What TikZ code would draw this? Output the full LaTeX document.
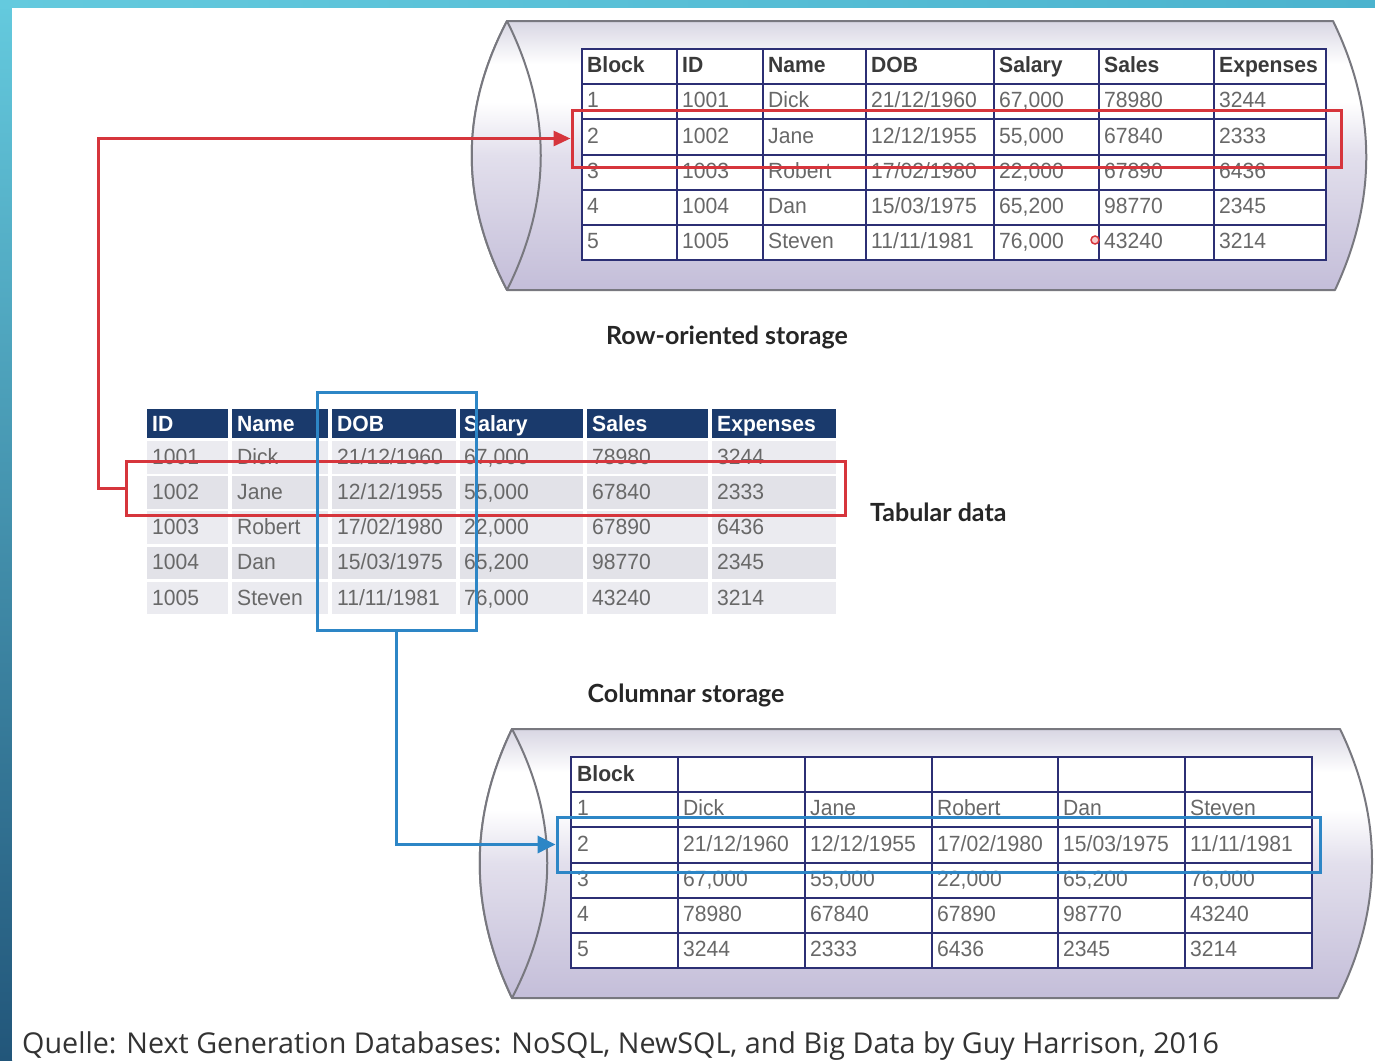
\documentclass[tikz,border=0pt]{standalone}
\usepackage{fontspec}
\setmainfont{Liberation Sans}
\newfontfamily\cellfont[FakeStretch=0.96]{Liberation Sans}
\newfontfamily\capfont{Lato}
\newfontfamily\sourcefont{Open Sans}
\usetikzlibrary{arrows.meta}

\definecolor{stripA}{HTML}{64CADE}
\definecolor{stripB}{HTML}{4AA9C6}
\definecolor{stripC}{HTML}{22567A}
\definecolor{stripR}{HTML}{4BB3CE}
\definecolor{gridnavy}{HTML}{2C2F74}
\definecolor{headnavy}{HTML}{1A3A6C}
\definecolor{selred}{HTML}{D6353C}
\definecolor{selblue}{HTML}{2D86C6}
\definecolor{celltext}{HTML}{686868}
\definecolor{headtext}{HTML}{3A3A3A}
\definecolor{bandlight}{HTML}{EBEBF0}
\definecolor{banddark}{HTML}{E2E2E8}
\definecolor{cyledge}{HTML}{78787F}
\definecolor{cyltop}{HTML}{D8D6E3}
\definecolor{cyllow}{HTML}{E2DFEC}
\definecolor{cylbot}{HTML}{C4BED9}

% drum body: greyish rim on top, bright band, lavender towards the bottom
\pgfdeclareverticalshading{cylshade}{100bp}{color(0bp)=(cylbot); color(25bp)=(cylbot); color(50bp)=(cyllow); color(60bp)=(white); color(67bp)=(white); color(75bp)=(cyltop); color(100bp)=(cyltop)}

\newcommand\hd[1]{\textcolor{headtext}{\bfseries #1}}

% one line of the row-oriented block table
\newcommand\toprow[9]{%
  \node[tcell] (top#1a) at (587,#2) {#3};
  \node[tcell] (top#1b) at (682,#2) {#4};
  \node[tcell] (top#1c) at (768,#2) {#5};
  \node[tcell] (top#1d) at (871,#2) {#6};
  \node[tcell] (top#1e) at (999,#2) {#7};
  \node[tcell] (top#1f) at (1104,#2) {#8};
  \node[tcell] (top#1g) at (1219,#2) {#9};
}
% one line of the tabular data
\newcommand\tabrow[8]{%
  \node[tcell,#8] (tab#1a) at (152,#2) {#3};
  \node[tcell,#8] (tab#1b) at (237,#2) {#4};
  \node[tcell,#8] (tab#1c) at (337,#2) {#5};
  \node[tcell,#8] (tab#1d) at (464,#2) {#6};
  \node[tcell,#8] (tab#1e) at (592,#2) {#7};
}
% one line of the columnar block table
\newcommand\colrow[8]{%
  \node[tcell] (col#1a) at (577,#2) {#3};
  \node[tcell] (col#1b) at (683,#2) {#4};
  \node[tcell] (col#1c) at (810,#2) {#5};
  \node[tcell] (col#1d) at (937,#2) {#6};
  \node[tcell] (col#1e) at (1063,#2) {#7};
  \node[tcell] (col#1f) at (1190,#2) {#8};
}

\begin{document}
\begin{tikzpicture}[x=1pt,y=-1pt,
  tcell/.style={anchor=west, inner sep=0pt, text=celltext,
    font=\cellfont\fontsize{22}{26}\selectfont, text height=16pt, text depth=0pt},
  drum/.style={shade, shading=cylshade, draw=cyledge, line width=2pt, line join=round},
  gridline/.style={draw=gridnavy, line width=2pt},
  selbox/.style={draw, line width=3pt, inner sep=0pt, fill=none},
  redlink/.style={draw=selred, line width=3pt, -{Triangle[length=17pt,width=15pt]}},
  bluelink/.style={draw=selblue, line width=3.5pt, -{Triangle[length=18pt,width=17pt]}},
  caplabel/.style={font=\capfont\bfseries\fontsize{25}{30}\selectfont, text=black!85, inner sep=0pt}]
\useasboundingbox (0,0) rectangle (1375,1060);

% slide frame
\shade[top color=stripA, middle color=stripB, bottom color=stripC] (0,0) rectangle (12,1060);
\shade[left color=stripA, right color=stripR] (0,0) rectangle (1375,8);
\fill[white] (12,8) rectangle (1375,1060);

% ---------- row-oriented drum ----------
\path[drum] (507,21) -- (1333,21) .. controls (1377,111) and (1377,200) .. (1335,290)
  -- (507,290) .. controls (460,200) and (460,111) .. (507,21) -- cycle;
\path[drum] (507,21) .. controls (460,111) and (460,200) .. (507,290)
  .. controls (552,200) and (552,111) .. (507,21) -- cycle;

\node[draw=gridnavy, line width=2.5pt, fill=white, inner sep=0pt,
  minimum width=744pt, minimum height=211pt] (toptable) at (954,154.5) {};
\foreach \x in {677,763,866,994,1099,1214} \draw[gridline] (\x,49) -- (\x,260);
\foreach \y in {84,119,155,190,225} \draw[gridline] (582,\y) -- (1326,\y);

\toprow{h}{64}{\hd{Block}}{\hd{ID}}{\hd{Name}}{\hd{DOB}}{\hd{Salary}}{\hd{Sales}}{\hd{Expenses}}
\toprow{1}{99}{1}{1001}{Dick}{21/12/1960}{67,000}{78980}{3244}
\toprow{2}{135}{2}{1002}{Jane}{12/12/1955}{55,000}{67840}{2333}
\toprow{3}{170}{3}{1003}{Robert}{17/02/1980}{22,000}{67890}{6436}
\toprow{4}{205}{4}{1004}{Dan}{15/03/1975}{65,200}{98770}{2345}
\toprow{5}{240}{5}{1005}{Steven}{11/11/1981}{76,000}{43240}{3214}

\node[circle, draw=selred, fill=selred!25, line width=1.5pt, minimum size=8pt, inner sep=0pt] (pointer) at (1095,240) {};

\node[caplabel] (rowlabel) at (727,337) {Row-oriented storage};

% ---------- tabular data ----------
\foreach \xa/\xb in {147/228, 232/328, 332/456, 460/583, 587/708, 712/836} {
  \fill[headnavy] (\xa,409) rectangle (\xb,438);
  \foreach \k in {0,2,4} \fill[bandlight] (\xa,441+35.2*\k) rectangle (\xb,473.5+35.2*\k);
  \foreach \k in {1,3} \fill[banddark] (\xa,441+35.2*\k) rectangle (\xb,473.5+35.2*\k);
}
\tabrow{h}{423}{ID}{Name}{DOB}{Salary}{Sales}{text=white, font=\cellfont\bfseries\fontsize{22}{26}\selectfont}
\node[tcell, text=white, font=\cellfont\bfseries\fontsize{22}{26}\selectfont] (tabhf) at (717,423) {Expenses};
\tabrow{1}{456}{1001}{Dick}{21/12/1960}{67,000}{78980}{}
\tabrow{2}{491}{1002}{Jane}{12/12/1955}{55,000}{67840}{}
\tabrow{3}{526}{1003}{Robert}{17/02/1980}{22,000}{67890}{}
\tabrow{4}{561}{1004}{Dan}{15/03/1975}{65,200}{98770}{}
\tabrow{5}{597}{1005}{Steven}{11/11/1981}{76,000}{43240}{}
\node[tcell] (tab1f) at (717,456) {3244};
\node[tcell] (tab2f) at (717,491) {2333};
\node[tcell] (tab3f) at (717,526) {6436};
\node[tcell] (tab4f) at (717,561) {2345};
\node[tcell] (tab5f) at (717,597) {3214};

\node[caplabel, anchor=west] (tablabel) at (870,512) {Tabular data};

% ---------- columnar drum ----------
\node[caplabel] (collabel) at (686,695) {Columnar storage};

\path[drum] (512,729) -- (1340,729) .. controls (1383,818) and (1383,908) .. (1338,998)
  -- (512,998) .. controls (469,908) and (469,818) .. (512,729) -- cycle;
\path[drum] (512,729) .. controls (469,818) and (469,908) .. (512,998)
  .. controls (559,908) and (559,818) .. (512,729) -- cycle;

\node[draw=gridnavy, line width=2.5pt, fill=white, inner sep=0pt,
  minimum width=741pt, minimum height=211pt] (coltable) at (941.5,862.5) {};
\foreach \x in {678,805,932,1058,1185} \draw[gridline] (\x,757) -- (\x,968);
\foreach \y in {792,827,863,898,933} \draw[gridline] (571,\y) -- (1312,\y);

\node[tcell] (colh) at (577,773) {\hd{Block}};
\colrow{1}{807}{1}{Dick}{Jane}{Robert}{Dan}{Steven}
\colrow{2}{843}{2}{21/12/1960}{12/12/1955}{17/02/1980}{15/03/1975}{11/11/1981}
\colrow{3}{878}{3}{67,000}{55,000}{22,000}{65,200}{76,000}
\colrow{4}{913}{4}{78980}{67840}{67890}{98770}{43240}
\colrow{5}{948}{5}{3244}{2333}{6436}{2345}{3214}

% ---------- selections and links ----------
\node[selbox, draw=selred, minimum width=769pt, minimum height=57pt] (rowsel) at (956.5,138.5) {};
\node[selbox, draw=selred, minimum width=719pt, minimum height=54pt] (tabsel) at (485.5,488) {};
\node[selbox, draw=selblue, minimum width=159pt, minimum height=238pt] (dobsel) at (396.5,511) {};
\node[selbox, draw=selblue, minimum width=763pt, minimum height=55pt] (colsel) at (938.5,844.5) {};

\coordinate (redbend) at (98,488);
\draw[redlink] (tabsel.west) -- (redbend) |- (rowsel.west);
\draw[bluelink] (dobsel.south) |- (colsel.west);

% source line
\node[anchor=base west, inner sep=0pt, text=black!80,
  font=\sourcefont\fontsize{28.7}{34}\selectfont] (source) at (22,1053)
  {Quelle: Next Generation Databases: NoSQL, NewSQL, and Big Data by Guy Harrison, 2016};
\end{tikzpicture}
\end{document}
